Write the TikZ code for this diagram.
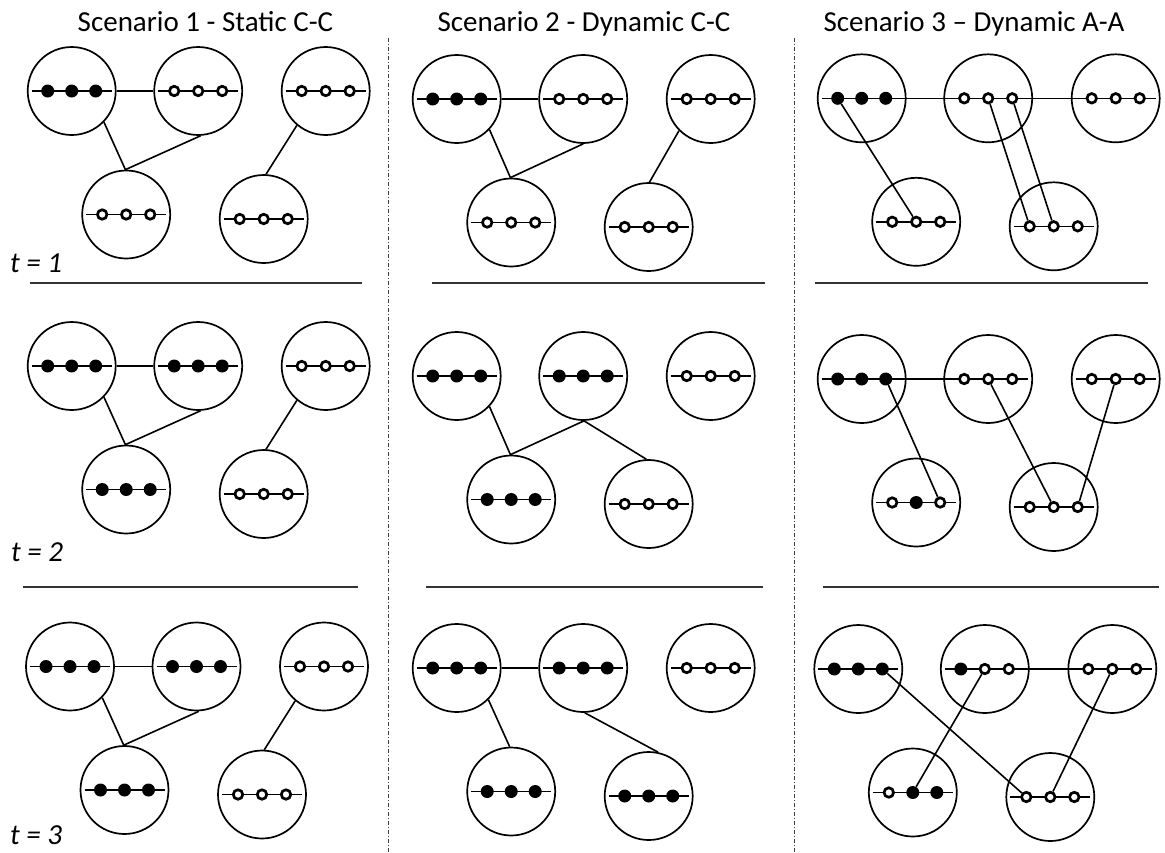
\documentclass[tikz,border=0pt]{standalone}
\usepackage{fontspec}
\setmainfont{Carlito}
\usetikzlibrary{calc}
\tikzset{
  cell/.style={circle,draw=black,line width=1.7pt,minimum size=88pt,inner sep=0pt,fill=white},
  bar/.style={line width=1.6pt},
  dotf/.style={circle,fill=black,minimum size=13pt,inner sep=0pt},
  doto/.style={circle,draw=black,fill=white,line width=2.7pt,minimum size=9.5pt,inner sep=0pt},
  link/.style={line width=1.6pt},
  sepline/.style={line width=2.5pt,draw=black!80},
  divider/.style={line width=1pt,draw=black!75,dash pattern=on 4pt off 2pt on 1pt off 2pt},
  title/.style={font=\fontsize{29}{35}\selectfont,anchor=base},
  tlabel/.style={font=\fontsize{29}{35}\selectfont\itshape,anchor=base west,inner sep=1pt},
}
\def\dotrow#1#2#3#4\relax{%
  \path (#1.center) ++(-24,0) node[dot#2] (#1-1) {};
  \path (#1.center) node[dot#3] (#1-2) {};
  \path (#1.center) ++(24,0) node[dot#4] (#1-3) {};
}
\newcommand\clus[4]{%
  \node[cell] (#1) at (#2,#3) {};
  \path (#1.center) ++(-40,0) coordinate (#1-l) ++(80,0) coordinate (#1-r);
  \draw[bar] (#1-l) -- (#1-r);
  \dotrow{#1}#4\relax
}
\newcommand\panel[8]{%
  \clus{#1A}{#2}{#3}{#4}
  \clus{#1B}{#2+126.5}{#3}{#5}
  \clus{#1C}{#2+254}{#3}{#6}
  \clus{#1D}{#2+54.5}{#3+123.5}{#7}
  \clus{#1E}{#2+192}{#3+128}{#8}
}
\begin{document}
\begin{tikzpicture}[x=1pt,y=-1pt]
\useasboundingbox (0,0) rectangle (1165,852);
\fill[white] (0,0) rectangle (1165,852);

% titles
\node[title] (h1) at (205.5,31) {Scenario 1 - Static C-C};
\node[title] (h2) at (584,31) {Scenario 2 - Dynamic C-C};
\node[title] (h3) at (974,31) {Scenario 3 – Dynamic A-A};

% time labels
\node[tlabel] (t1) at (9,272) {t = 1};
\node[tlabel] (t2) at (10,561) {t = 2};
\node[tlabel] (t3) at (9,844) {t = 3};

% dividers
\coordinate (v1a) at (388,38); \coordinate (v1b) at (388,852);
\coordinate (v2a) at (794,38); \coordinate (v2b) at (794,852);
\draw[divider] (v1a) -- (v1b);
\draw[divider] (v2a) -- (v2b);

% separators
\coordinate (s11a) at (30,283);  \coordinate (s11b) at (362,283);
\coordinate (s21a) at (432,283); \coordinate (s21b) at (765,283);
\coordinate (s31a) at (815,283); \coordinate (s31b) at (1148,283);
\coordinate (s12a) at (23,587);  \coordinate (s12b) at (358,587);
\coordinate (s22a) at (426,587); \coordinate (s22b) at (763,587);
\coordinate (s32a) at (823,587); \coordinate (s32b) at (1159,587);
\foreach \s in {11,21,31,12,22,32} \draw[sepline] (s\s a) -- (s\s b);

% panels
\panel{P11}{71.7}{91}{fff}{ooo}{ooo}{ooo}{ooo}
\panel{P12}{71.7}{366}{fff}{fff}{ooo}{fff}{ooo}
\panel{P13}{70}{666.5}{fff}{fff}{ooo}{fff}{ooo}
\panel{P21}{456.7}{99}{fff}{ooo}{ooo}{ooo}{ooo}
\panel{P22}{456.7}{376}{fff}{fff}{ooo}{fff}{ooo}
\panel{P23}{456.7}{668}{fff}{fff}{ooo}{fff}{fff}
\panel{P31}{861.7}{98.3}{fff}{ooo}{ooo}{ooo}{ooo}
\panel{P32}{861.7}{379}{fff}{ooo}{ooo}{ofo}{ooo}
\panel{P33}{858.3}{669}{fff}{foo}{ooo}{off}{ooo}

% scenario 1 links
\foreach \p in {P11,P12,P13}{
  \draw[link] (\p A) -- (\p B);
  \draw[link] (\p A.-44) -- (\p D.91);
  \draw[link] (\p B.-87) -- (\p D.91);
  \draw[link] (\p C.-130) -- (\p E.87);
}
% scenario 2 links
\draw[link] (P21A) -- (P21B);
\draw[link] (P21A.-43) -- (P21D.91);
\draw[link] (P21B.-90) -- (P21D.91);
\draw[link] (P21C.-135) -- (P21E.89);

\draw[link] (P22A.-43) -- (P22D.91);
\draw[link] (P22B.-89) -- (P22D.91);
\draw[link] (P22B.-89) -- (P22E.93);

\draw[link] (P23A) -- (P23B);
\draw[link] (P23A.-45) -- (P23D.92);
\draw[link] (P23B.-88) -- (P23E.78);

% scenario 3 links
\draw[link] (P31A-r) -- (P31B-l);
\draw[link] (P31B-r) -- (P31C-l);
\draw[link] (P31A-1) -- (P31D-2);
\draw[link] (P31B-2) -- (P31E-1);
\draw[link] (P31B-3) -- (P31E-2);

\draw[link] (P32A-r) -- (P32B-l);
\draw[link] (P32A-3) -- (P32D-3);
\draw[link] (P32B-2) -- (P32E-2);
\draw[link] (P32C-2) -- (P32E-3);

\draw[link] (P33B-r) -- (P33C-l);
\draw[link] (P33A-3) -- (P33E-1);
\draw[link] (P33B-2) -- (P33D-2);
\draw[link] (P33C-2) -- (P33E-2);
\end{tikzpicture}
\end{document}
